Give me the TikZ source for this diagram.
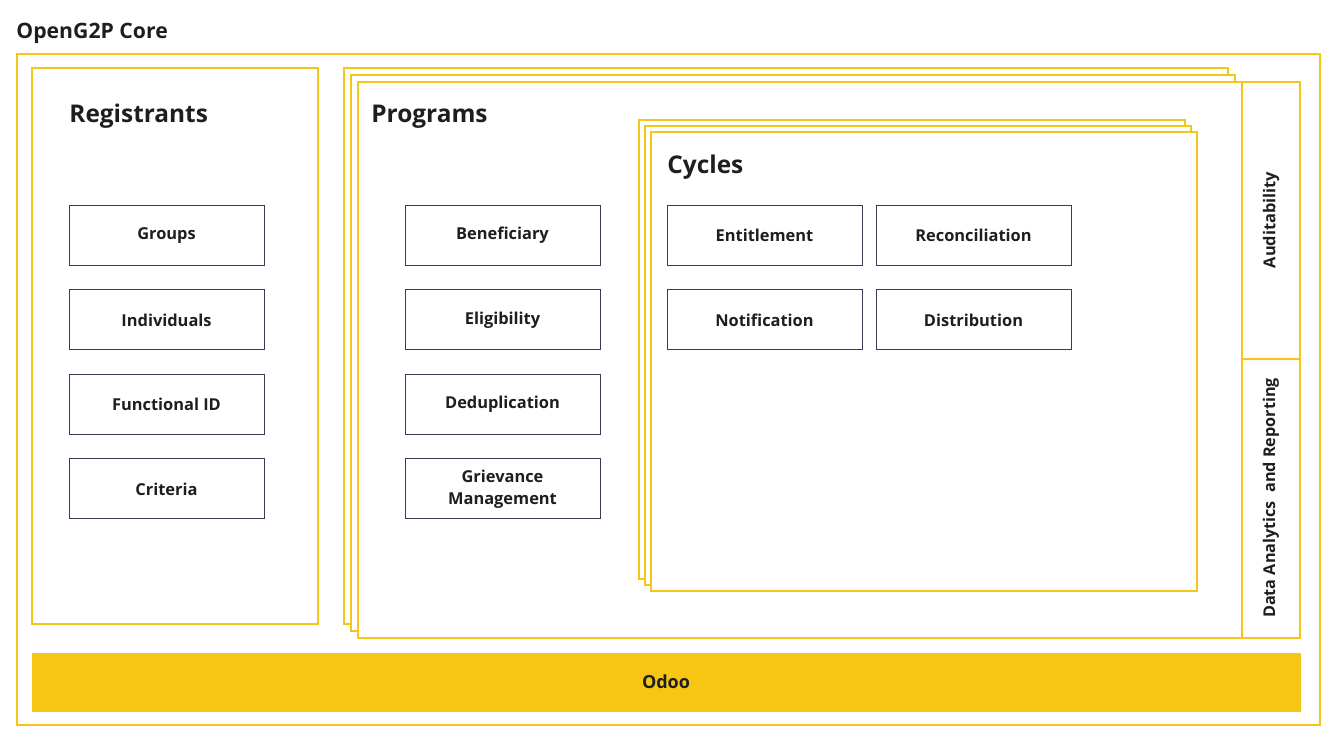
\documentclass[tikz,border=0pt]{standalone}
\usepackage{fontspec}
\setmainfont{Open Sans}
\definecolor{gold}{HTML}{F5C518}
\definecolor{odoo}{HTML}{F7C614}
\definecolor{boxline}{HTML}{3B3B55}
\definecolor{ink}{HTML}{1E1E1E}
\tikzset{
  frame/.style={draw=gold, line width=1.4pt, fill=white},
  module/.style={draw=boxline, line width=0.5pt, minimum width=97.5pt, minimum height=30pt,
    inner sep=0pt, align=center, font=\fontsize{8.2}{11}\selectfont\bfseries, text=ink},
  heading/.style={anchor=base west, font=\fontsize{12.2}{14}\selectfont\bfseries, text=ink},
}
\begin{document}
\begin{tikzpicture}[x=0.5pt, y=-0.5pt]
    \useasboundingbox (0,0) rectangle (1338,747);

    \node[anchor=base west, inner sep=0pt, font=\fontsize{10.6}{12}\selectfont\bfseries, text=ink] (core) at (16,39) {OpenG2P Core};
    \draw[gold, line width=1.4pt] (17,54) rectangle (1320,725);

    % registrants
    \draw[frame] (32,68) rectangle (318,624);
    \node[heading, inner sep=0pt] (registrants) at (69,123) {Registrants};

    % programs, three sheets
    \foreach \d in {0, 7, 14}{
      \draw[frame] (344+\d, 68+\d) rectangle (1228+\d, 624+\d);
    }
    \node[heading, inner sep=0pt] (programs) at (371,123) {Programs};

    \draw[gold, line width=1.4pt] (1242,82) rectangle (1300,359);
    \draw[gold, line width=1.4pt] (1242,359) rectangle (1300,638);
    \node[rotate=90, font=\fontsize{8.2}{10}\selectfont\bfseries, text=ink] (audit) at (1271,220) {Auditability};
    \node[rotate=90, font=\fontsize{8.1}{10}\selectfont\bfseries, text=ink] (analytics) at (1271,498) {Data Analytics\ \ and Reporting};

    % cycles, three sheets
    \foreach \d in {0, 6, 12}{
      \draw[frame] (639+\d, 120+\d) rectangle (1185+\d, 579+\d);
    }
    \node[heading, inner sep=0pt] (cycles) at (667,174) {Cycles};

    \node[module] (groups) at (166.5,235.5) {Groups};
    \node[module] (individuals) at (166.5,320) {Individuals};
    \node[module] (functionalid) at (166.5,404.5) {Functional ID};
    \node[module] (criteria) at (166.5,489) {Criteria};

    \node[module] (beneficiary) at (502.5,235.5) {Beneficiary};
    \node[module] (eligibility) at (502.5,320) {Eligibility};
    \node[module] (deduplication) at (502.5,404.5) {Deduplication};
    \node[module] (grievance) at (502.5,489) {Grievance\\Management};

    \node[module] (entitlement) at (764.5,235.5) {Entitlement};
    \node[module] (reconciliation) at (973.5,235.5) {Reconciliation};
    \node[module] (notification) at (764.5,320) {Notification};
    \node[module] (distribution) at (973.5,320) {Distribution};

    \fill[odoo] (32,653) rectangle (1301,712);
    \node[font=\fontsize{9}{10}\selectfont\bfseries, text=ink] (odoo) at (666,682) {Odoo};
\end{tikzpicture}
\end{document}
